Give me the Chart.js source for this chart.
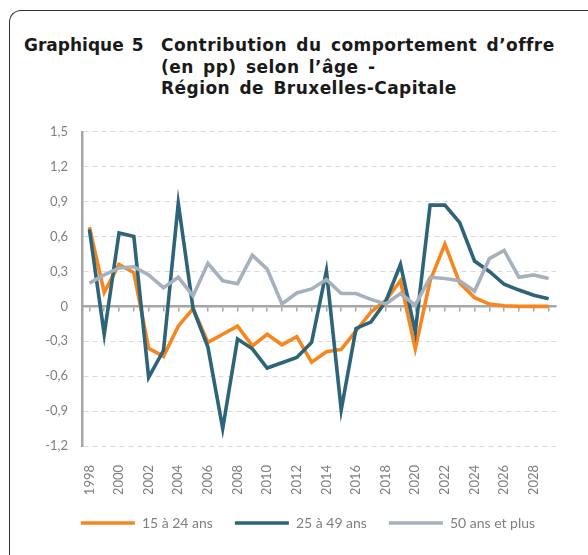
<!DOCTYPE html>
<html>
<head>
<meta charset="utf-8">
<script src="https://cdn.jsdelivr.net/npm/chart.js@4/dist/chart.umd.min.js"></script>
<style>
    html, body { margin: 0; padding: 0; background: #fff; }
    body { width: 588px; height: 555px; position: relative; overflow: hidden; }
    #frame {
        position: absolute; left: 9px; top: 10px; width: 640px; height: 600px;
        border-left: 1.5px solid #333; border-top: 1.5px solid #333;
        border-top-left-radius: 12px;
    }
    .title { position: absolute; font-family: "DejaVu Sans", sans-serif; font-weight: 700;
             font-size: 17px; line-height: 21.5px; color: #1a1a1a; white-space: nowrap; }
    #num { left: 24px; top: 35px; word-spacing: 2px; }
    #txt { left: 161px; top: 35px; letter-spacing: 0.45px; word-spacing: 3px; }
    #wrap { position: absolute; left: 0; top: 110px; width: 588px; height: 445px; }
</style>
</head>
<body>
<div id="frame"></div>
<div class="title" id="num">Graphique 5</div>
<div class="title" id="txt">Contribution du comportement d’offre<br>(en pp) selon l’âge -<br>Région de Bruxelles-Capitale</div>
<div id="wrap"><canvas id="chart"></canvas></div>
<script>
    var years = [];
    for (var y = 1998; y <= 2029; y++) years.push(String(y));

    var young = [0.68, 0.12, 0.36, 0.29, -0.36, -0.43, -0.17, -0.02, -0.31, -0.24,
                 -0.17, -0.34, -0.24, -0.33, -0.26, -0.48, -0.39, -0.37, -0.21, -0.05,
                 0.05, 0.22, -0.365, 0.22, 0.535, 0.20, 0.075, 0.02, 0.005, 0, 0, 0];
    var middle = [0.66, -0.24, 0.63, 0.60, -0.61, -0.38, 0.885, -0.02, -0.35, -1.05,
                  -0.28, -0.365, -0.53, -0.485, -0.44, -0.31, 0.305, -0.89, -0.19, -0.135,
                  0.04, 0.36, -0.22, 0.87, 0.87, 0.72, 0.39, 0.30, 0.19, 0.14, 0.095, 0.065];
    var older = [0.20, 0.27, 0.33, 0.34, 0.27, 0.16, 0.25, 0.09, 0.37, 0.22,
                 0.195, 0.44, 0.32, 0.02, 0.115, 0.15, 0.23, 0.11, 0.11, 0.06,
                 0.02, 0.11, 0.01, 0.25, 0.24, 0.22, 0.13, 0.41, 0.48, 0.25, 0.27, 0.24];
    var seriesNames = ['15 à 24 ans', '25 à 49 ans', '50 ans et plus'];
    var yTicks = [-1.2, -0.9, -0.6, -0.3, 0, 0.3, 0.6, 0.9, 1.2, 1.5];

    var COLORS = {
        orange: '#f7861f',
        teal:   '#2d6479',
        gray:   '#a7b1bd',
        axis:   '#a6a6a6',
        grid:   '#d9d9d9',
        text:   '#7f7f7f',
    };

    function line(label, data, color, order) {
        return {
            label: label,
            data: data,
            borderColor: color,
            backgroundColor: color,
            borderWidth: 3.6,
            pointRadius: 0,
            tension: 0,
            order: order,
        };
    }

    // legend is centred a bit right of the canvas centre, like in the original
    var legendShift = {
        id: 'legendShift',
        afterLayout: function (chart) {
            var lg = chart.legend;
            if (!lg) return;
            lg.left = 40;
            lg.right = 576;
        },
    };

    new Chart(document.getElementById('chart'), {
        type: 'line',
        data: {
            labels: years,
            datasets: [
                line(seriesNames[0], young, COLORS.orange, 3),
                line(seriesNames[1], middle, COLORS.teal, 2),
                line(seriesNames[2], older, COLORS.gray, 1),
            ],
        },
        plugins: [legendShift],
        options: {
            responsive: true,
            maintainAspectRatio: false,
            animation: false,
            layout: { padding: { left: 30, right: 32, top: 7, bottom: 15 } },
            plugins: {
                tooltip: { enabled: false },
                legend: {
                    position: 'bottom',
                    labels: {
                        usePointStyle: true,
                        pointStyle: 'line',
                        pointStyleWidth: 54,
                        boxHeight: 14,
                        padding: 22,
                        color: COLORS.text,
                        font: { family: 'Lato', size: 14 },
                        sort: function (a, b) { return a.datasetIndex - b.datasetIndex; },
                    },
                },
            },
            scales: {
                // axis line on zero with small tick marks
                x: {
                    type: 'category',
                    position: { y: 0 },
                    offset: true,
                    grid: { drawOnChartArea: false, drawTicks: true, tickLength: 4, color: COLORS.axis, lineWidth: 1.5 },
                    border: { display: true, color: COLORS.axis, width: 2.5 },
                    ticks: { display: false },
                },
                // year labels at the bottom
                x2: {
                    type: 'category',
                    labels: years,
                    position: 'bottom',
                    offset: true,
                    grid: { display: false },
                    border: { display: false },
                    ticks: {
                        autoSkip: false,
                        maxRotation: 90,
                        minRotation: 90,
                        padding: 11,
                        color: COLORS.text,
                        font: { family: 'Lato', size: 13 },
                        callback: function (v, i) { return i % 2 === 0 ? years[i] : ''; },
                    },
                    afterFit: function (scale) { scale.height = 48; },
                },
                y: {
                    min: -1.2,
                    max: 1.5,
                    afterBuildTicks: function (scale) {
                        scale.ticks = yTicks.map(function (v) { return { value: v }; });
                    },
                    grid: {
                        drawTicks: false,
                        color: function (ctx) { return ctx.tick && ctx.tick.value === 0 ? 'rgba(0,0,0,0)' : COLORS.grid; },
                        lineWidth: 1,
                    },
                    border: { display: true, color: COLORS.axis, width: 2.5, dash: [5, 4] },
                    ticks: {
                        padding: 14,
                        color: COLORS.text,
                        font: { family: 'Lato', size: 13 },
                        callback: function (v) {
                            return v === 0 ? '0' : v.toFixed(1).replace('.', ',');
                        },
                    },
                    afterFit: function (scale) { scale.width = 52; },
                },
            },
        },
    });
</script>
</body>
</html>
